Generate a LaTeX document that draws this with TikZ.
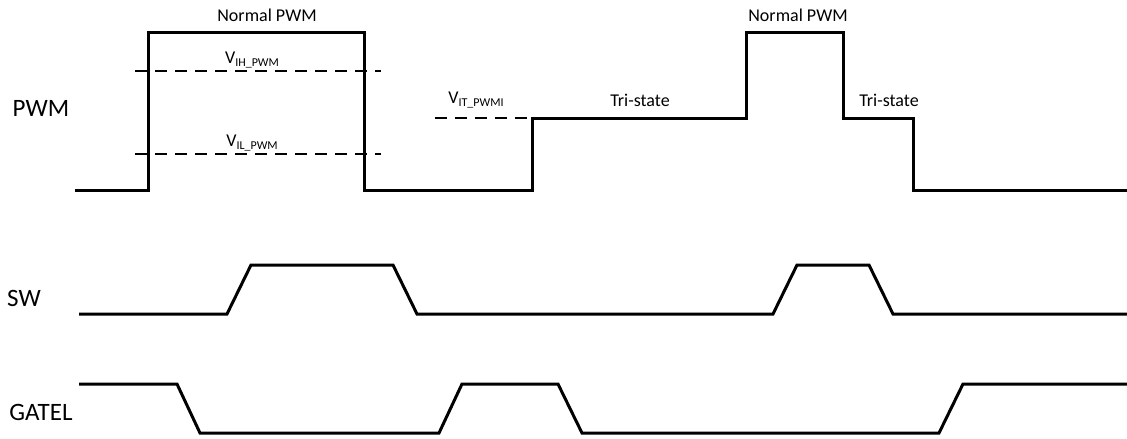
\documentclass[tikz,border=0pt]{standalone}
\usepackage{fontspec}
\setmainfont{Carlito}
\newcommand{\subtxt}[1]{\raisebox{-0.25ex}{\fontsize{12}{14}\selectfont #1}}
\begin{document}
\begin{tikzpicture}[x=1pt,y=-1pt,
  wave/.style={line width=3pt, line join=miter},
  thr/.style={line width=2.4pt, dash pattern=on 12pt off 8pt},
  sig/.style={font=\fontsize{25}{28}\selectfont, anchor=center, inner sep=0pt},
  note/.style={font=\fontsize{18}{21}\selectfont, anchor=center, inner sep=0pt}]
\useasboundingbox (0,0) rectangle (1127,439);
% signal names
\node[sig] (lpwm) at (41,108) {PWM};
\node[sig] (lsw) at (24,298) {SW};
\node[sig] (lgate) at (41,412) {GATEL};
% annotations
\node[note] (np1) at (267,15) {Normal PWM};
\node[note] (np2) at (798,15) {Normal PWM};
\node[note] (vih) at (252,60) {V\subtxt{IH\_PWM}};
\node[note] (vil) at (252,143) {V\subtxt{IL\_PWM}};
\node[note] (vit) at (476,100) {V\subtxt{IT\_PWMI}};
\node[note] (ts1) at (640,100) {Tri-state};
\node[note] (ts2) at (889,100) {Tri-state};
% thresholds
\draw[thr] (135,71) -- (381,71);
\draw[thr] (135,154) -- (381,154);
\draw[thr] (435,118) -- (532,118);
% PWM waveform
\draw[wave] (75,190) -- (148,190) -- (148,32) -- (364,32) -- (364,190) -- (532,190)
  -- (532,118) -- (746,118) -- (746,32) -- (843,32) -- (843,118) -- (913,118)
  -- (913,190) -- (1127,190);
% SW waveform
\draw[wave] (79,314) -- (227,314) -- (251,265) -- (393,265) -- (417,314) -- (773,314)
  -- (797,265) -- (869,265) -- (893,314) -- (1127,314);
% GATEL waveform
\draw[wave] (79,384) -- (177,384) -- (200,433) -- (439,433) -- (462,384) -- (558,384)
  -- (582,433) -- (939,433) -- (963,384) -- (1127,384);
\end{tikzpicture}
\end{document}
